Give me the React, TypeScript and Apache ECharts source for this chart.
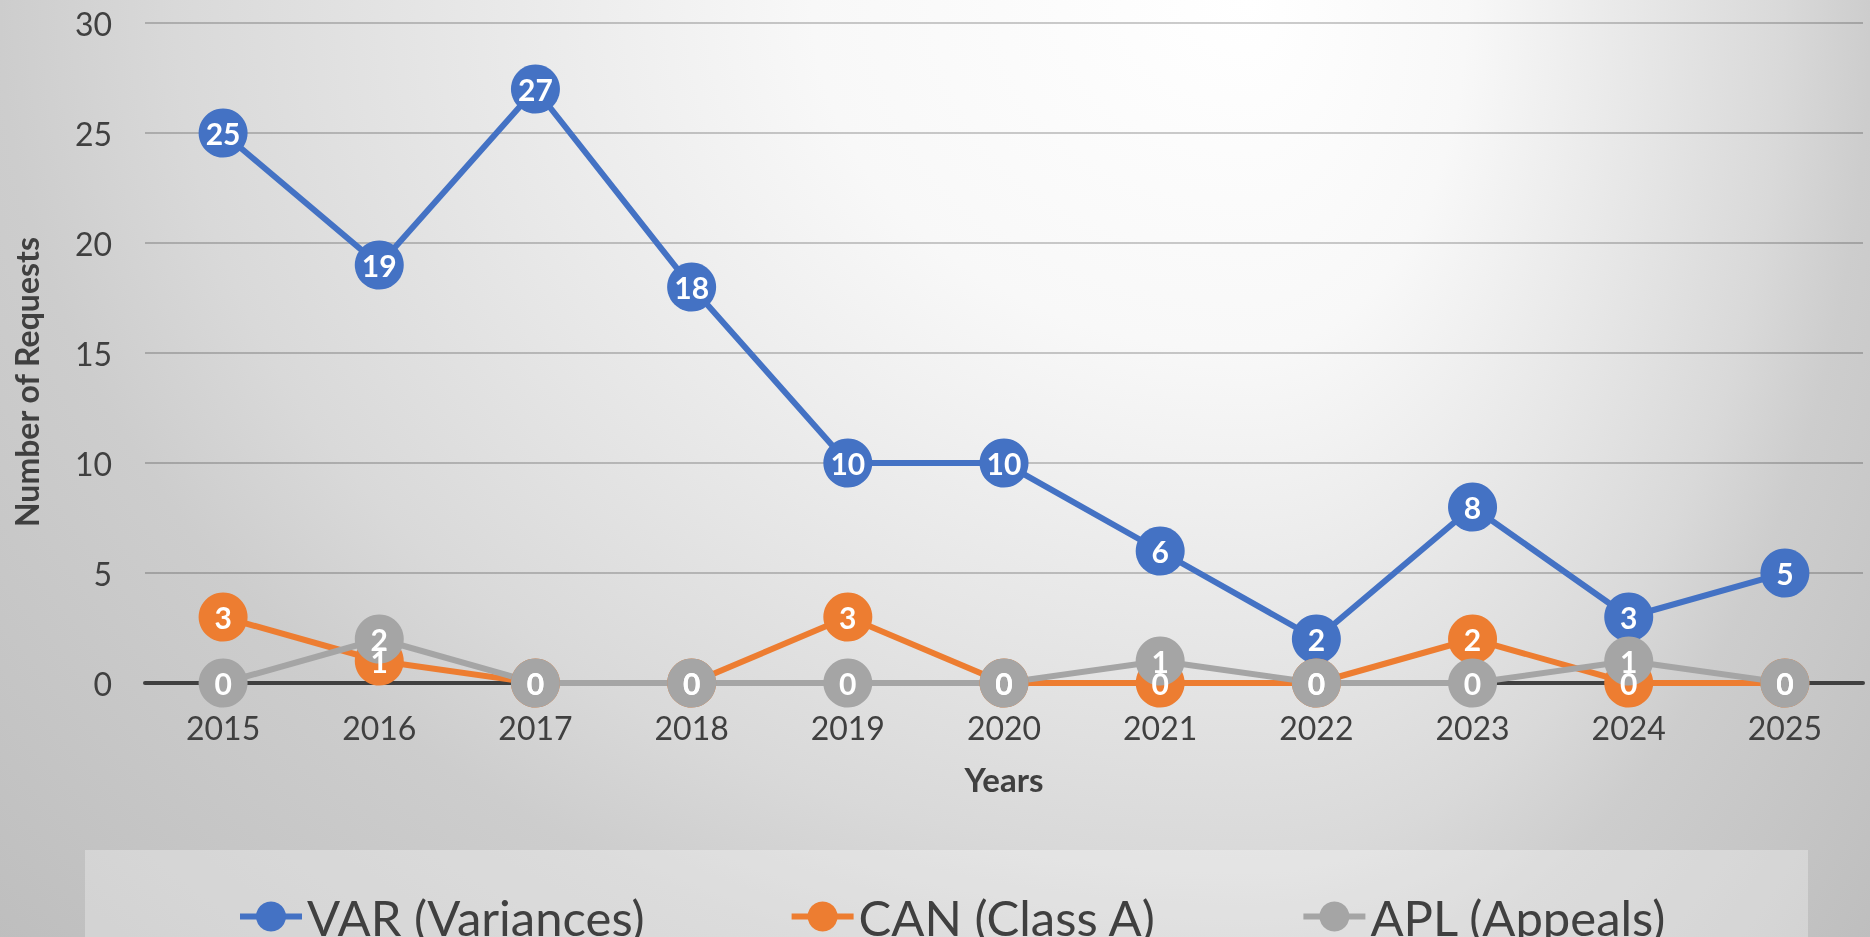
import React, { useEffect, useRef } from "react";
import * as echarts from "echarts";

const years = ["2015", "2016", "2017", "2018", "2019", "2020", "2021", "2022", "2023", "2024", "2025"];
const varValues = [25, 19, 27, 18, 10, 10, 6, 2, 8, 3, 5];
const canValues = [3, 1, 0, 0, 3, 0, 0, 0, 2, 0, 0];
const aplValues = [0, 2, 0, 0, 0, 0, 1, 0, 0, 1, 0];
const seriesNames = ["VAR (Variances)", "CAN (Class A)", "APL (Appeals)"];
const seriesColors = ["#4472C4", "#ED7D31", "#A5A5A5"];
const yMin = 0;
const yMax = 30;
const yStep = 5;
const xTitle = "Years";
const yTitle = "Number of Requests";

const FONT = "Lato";
const TEXT = "#404040";

const stops =
  "#ffffff 0%, #f8f8f8 35%, #e6e6e6 65%, #d9d9d9 86%, #cdcdcd 100%, #bdbdbd 140%";

export default function App() {
  const ref = useRef<HTMLDivElement>(null);

  useEffect(() => {
    if (!ref.current) return;
    const chart = echarts.init(ref.current, undefined, { renderer: "svg" });
    const valueSets = [varValues, canValues, aplValues];
    const option = {
      animation: false,
      backgroundColor: "transparent",
      textStyle: { fontFamily: FONT },
      grid: { left: 145, right: 7, top: 23, bottom: 254, containLabel: false },
      xAxis: {
        type: "category",
        data: years,
        boundaryGap: true,
        axisLine: { lineStyle: { color: TEXT, width: 4 } },
        axisTick: { show: false },
        axisLabel: { color: TEXT, fontSize: 32, margin: 28, fontFamily: FONT },
        name: xTitle,
        nameLocation: "middle",
        nameGap: 79,
        nameTextStyle: { color: TEXT, fontSize: 33, fontWeight: "bold", fontFamily: FONT },
      },
      yAxis: {
        type: "value",
        min: yMin,
        max: yMax,
        interval: yStep,
        axisLine: { show: false },
        axisTick: { show: false },
        axisLabel: { color: TEXT, fontSize: 32, margin: 33, fontFamily: FONT },
        splitLine: { lineStyle: { color: "rgba(0,0,0,0.2)", width: 2 } },
      },
      legend: {
        left: 232,
        top: 887,
        itemWidth: 62,
        itemHeight: 37.5,
        itemGap: 144,
        lineStyle: { width: 6 },
        textStyle: { color: TEXT, fontSize: 49, fontFamily: FONT },
        data: seriesNames,
      },
      graphic: [
        {
          type: "rect",
          z: 0,
          shape: { x: 85, y: 850, width: 1723, height: 120 },
          style: { fill: "rgba(255,255,255,0.3)" },
        },
        {
          type: "text",
          x: 26,
          y: 382,
          rotation: Math.PI / 2,
          style: {
            text: yTitle,
            fill: TEXT,
            font: `bold 32px ${FONT}`,
            align: "center",
            verticalAlign: "middle",
          },
        },
      ],
      series: seriesNames.map((name, i) => ({
        name,
        type: "line",
        data: valueSets[i],
        symbol: "circle",
        symbolSize: 49,
        color: seriesColors[i],
        lineStyle: { width: 6, color: seriesColors[i] },
        itemStyle: { color: seriesColors[i] },
        label: {
          show: true,
          position: "inside",
          color: "#ffffff",
          fontWeight: "bold",
          fontSize: 30,
          fontFamily: FONT,
        },
      })),
    };
    chart.setOption(option);
    return () => chart.dispose();
  }, []);

  return (
    <div
      ref={ref}
      style={{
        position: "fixed",
        left: 0,
        top: 0,
        width: 1870,
        height: 937,
        backgroundImage: `radial-gradient(ellipse 1250px 1000px at 1250px 0px, ${stops}), radial-gradient(ellipse 620px 1000px at 0px 0px, ${stops})`,
        backgroundSize: "1250px 937px, 620px 937px",
        backgroundPosition: "0px 0px, 1250px 0px",
        backgroundRepeat: "no-repeat, no-repeat",
      }}
    />
  );
}
